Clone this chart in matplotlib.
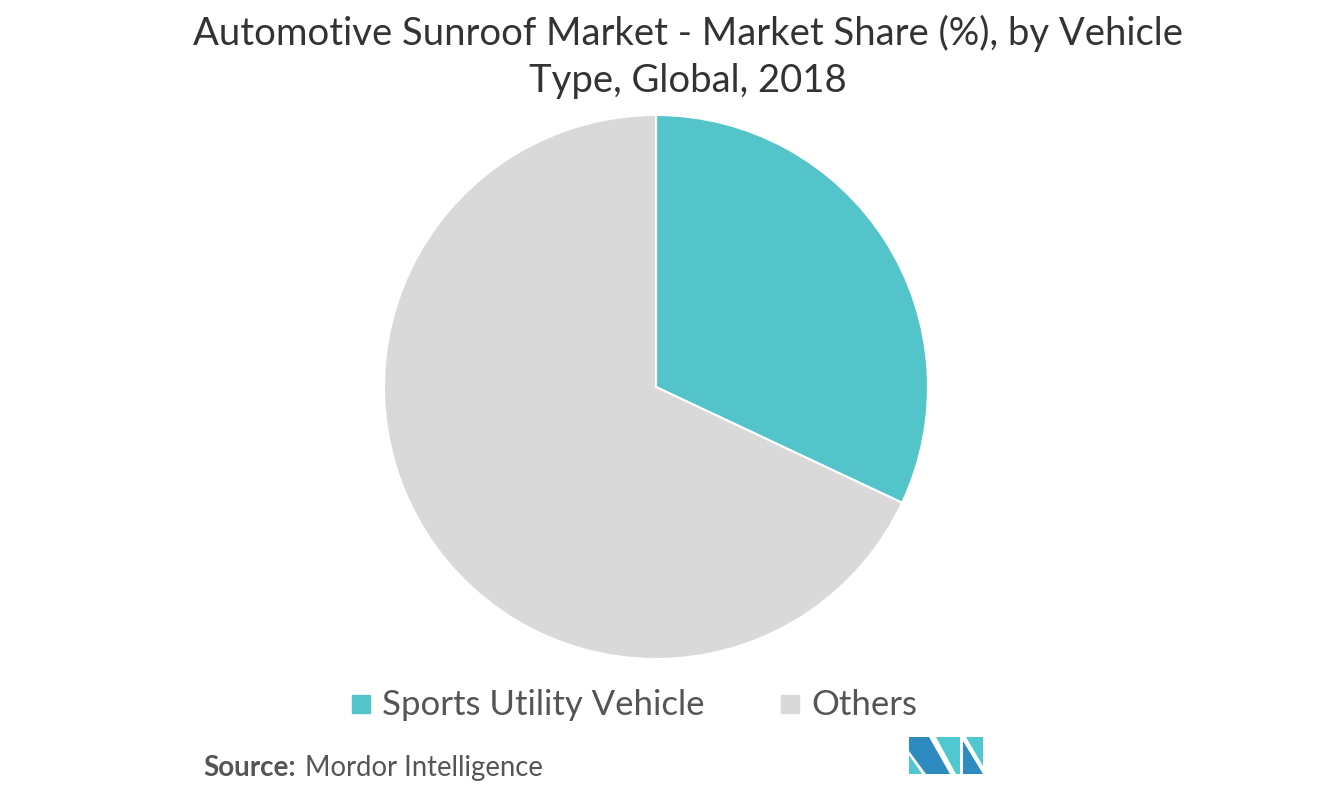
import matplotlib
matplotlib.use("Agg")
import matplotlib.pyplot as plt
from matplotlib.patches import Polygon, Rectangle

categories = ["Sports Utility Vehicle", "Others"]
shares = [32, 68]
colors = ["#53C4C9", "#D9D9D9"]
title = "Automotive Sunroof Market - Market Share (%), by Vehicle\nType, Global, 2018"

plt.rcParams['font.family'] = ['Lato', 'DejaVu Sans']

W, H = 1321, 803
fig = plt.figure(figsize=(W/100, H/100), dpi=100)
fig.patch.set_facecolor("white")

cx, cy, r = 656, 388, 272
ax = fig.add_axes([(cx - r)/W, (H - cy - r)/H, 2*r/W, 2*r/H])
ax.pie(shares, colors=colors, startangle=90, counterclock=False,
       wedgeprops=dict(edgecolor="white", linewidth=1.5))
ax.set_xlim(-1, 1)
ax.set_ylim(-1, 1)
ax.set_aspect("equal")
ax.axis("off")

fig.text(688/W, 1 - 57/H, title, ha="center", va="center", fontsize=27.5,
         color="#333333", linespacing=1.38)

# Legend
leg_y = 1 - 705/H
for x_sq, x_txt, lab, col in [(352, 382, categories[0], colors[0]),
                               (781, 811, categories[1], colors[1])]:
    fig.patches.append(Rectangle((x_sq/W, (H-714)/H), 18/W, 18/H,
                                 transform=fig.transFigure, color=col))
    fig.text(x_txt/W, leg_y, lab, ha="left", va="center", fontsize=25, color="#555555")

# Source
fig.text(203/W, 1 - 768/H, "Source:", ha="left", va="center", fontsize=20,
         fontweight="bold", color="#555555")
fig.text(305/W, 1 - 768/H, "Mordor Intelligence", ha="left", va="center", fontsize=19.8,
         color="#555555")

# Logo
def poly(pts, col):
    fig.patches.append(Polygon([(x/W, (H-y)/H) for x, y in pts], closed=True,
                               transform=fig.transFigure, color=col, lw=0))
dark = "#2E8BC0"
teal = "#4FC9CF"
poly([(909,738),(929,738),(950,775),(926,775),(909,752)], dark)
poly([(909,756),(909,775),(922,775)], teal)
poly([(936,738),(960,738),(960,775),(956,775)], teal)
poly([(963,742),(983,775),(963,775)], dark)
poly([(966,738),(983,738),(983,767)], teal)

fig.savefig("out.png", dpi=100, facecolor="white")
